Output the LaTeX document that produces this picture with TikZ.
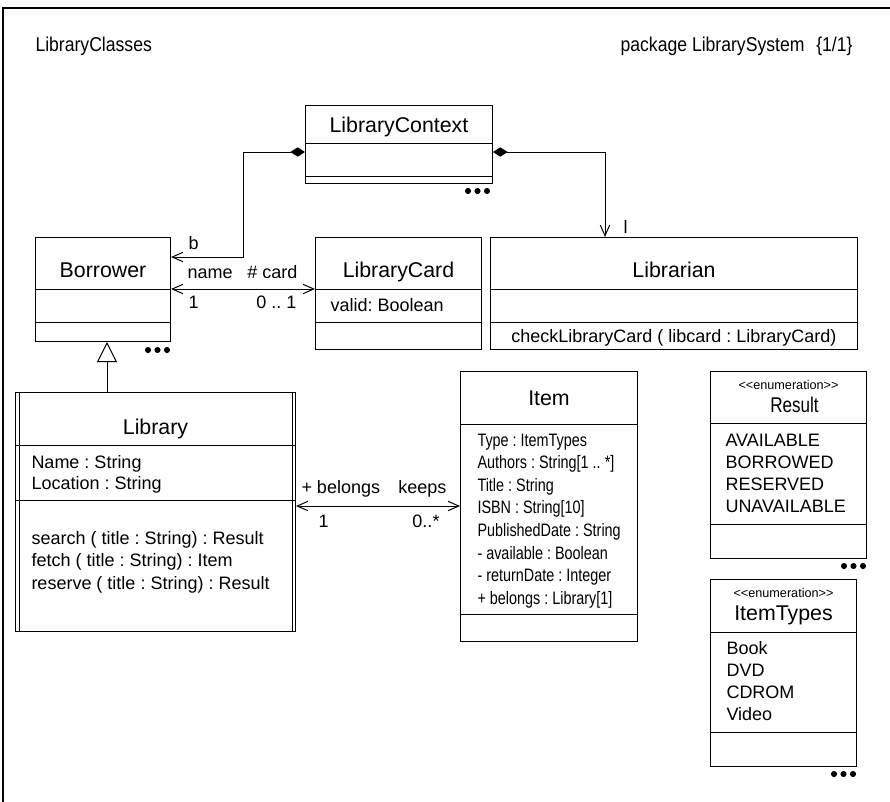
\documentclass[tikz,border=0pt]{standalone}
\usepackage{fontspec}
\setmainfont{Liberation Sans}
\usetikzlibrary{arrows.meta, positioning, calc}
\frenchspacing
\newcommand\condensed[2][0.8]{\scalebox{#1}[1]{#2}}

\begin{document}
\begin{tikzpicture}[x=0.75pt, y=-0.75pt, line width=0.75pt,
  classbox/.style={draw, inner sep=0pt, anchor=north west},
  cname/.style={font=\fontsize{16}{19}\selectfont, anchor=base, inner sep=0pt},
  stereo/.style={font=\fontsize{9.5}{11}\selectfont, anchor=base, inner sep=0pt},
  attr/.style={font=\fontsize{13.5}{16}\selectfont, anchor=base west, inner sep=0pt},
  role/.style={font=\fontsize{13.5}{16}\selectfont, inner sep=0pt},
  header/.style={font=\fontsize{15}{18}\selectfont, inner sep=0pt, anchor=base east},
  assoc/.style={{Straight Barb[length=8pt, width=7pt]}-{Straight Barb[length=8pt, width=7pt]}},
  comp/.style={{Diamond[length=11pt, width=7pt]}-{Straight Barb[length=8pt, width=7pt]}},
  gen/.style={-{Triangle[open, length=15pt, width=15pt]}}]

  \useasboundingbox (0,0) rectangle (890,801);
  \draw[line width=1pt] (3,8) rectangle (900,820);
  \node[header, anchor=base west] (diagname) at (35,51) {\condensed[0.88]{LibraryClasses}};
  \node[header] (pkgname) at (805,51) {\condensed[0.88]{package LibrarySystem}};
  \node[header] (pkgpage) at (853,51) {\condensed[0.88]{\{1/1\}}};

  % class boxes: name / corner / size / compartment lines
  \foreach \n/\x/\y/\w/\h/\sa/\sb in {ctx/305/105/187/78/38/71,
      borrower/35/237/135/104/52/85, card/315/237/166/112/52/85,
      librarian/490/237/367/112/52/85, library/15/392/280/239/53/108,
      item/460/371/177/270/53/243, result/710/371/156/187/52/153,
      types/710/579/146/187/53/153}{
    \node[classbox, minimum width=\w*0.75pt, minimum height=\h*0.75pt] (\n) at (\x,\y) {};
    \draw ($(\n.north west)+(0,\sa)$) -- ($(\n.north east)+(0,\sa)$)
          ($(\n.north west)+(0,\sb)$) -- ($(\n.north east)+(0,\sb)$);
  }
  % active class
  \draw ($(library.north west)+(4,0)$) -- ($(library.south west)+(4,0)$)
        ($(library.north east)+(-4,0)$) -- ($(library.south east)+(-4,0)$);

  \node[cname] (ctx-name) at ($(ctx.north)+(0,27)$) {LibraryContext};
  \node[cname] (borrower-name) at ($(borrower.north)+(0,40.5)$) {Borrower};
  \node[cname] (card-name) at ($(card.north)+(0,40.5)$) {LibraryCard};
  \node[cname] (librarian-name) at ($(librarian.north)+(0,40.5)$) {Librarian};
  \node[cname] (library-name) at ($(library.north)+(0,42.5)$) {Library};
  \node[cname] (item-name) at ($(item.north)+(0,34.5)$) {Item};
  \node[stereo] (result-st) at ($(result.north)+(0,18)$) {<{}<enumeration>{}>};
  \node[cname] (result-name) at ($(result.north)+(6,41.5)$) {\condensed{Result}};
  \node[stereo] (types-st) at ($(types.north)+(0,18)$) {<{}<enumeration>{}>};
  \node[cname] (types-name) at ($(types.north)+(0,41.5)$) {ItemTypes};

  % attributes and operations
  \node[attr] (card-a1) at ($(card.north west)+(15,74)$) {valid: Boolean};
  \node[attr, anchor=base] (librarian-o1) at ($(librarian.north)+(0,105)$) {checkLibraryCard ( libcard : LibraryCard)};
  \foreach \t [count=\i] in {{Name : String}, {Location : String}}
    \node[attr] (library-a\i) at ($(library.north west)+(16,{76+21*(\i-1)})$) {\t};
  \foreach \t [count=\i] in {{search ( title : String) : Result},
      {fetch ( title : String) : Item}, {reserve ( title : String) : Result}}
    \node[attr] (library-o\i) at ($(library.north west)+(16,{152+22.5*(\i-1)})$) {\t};
  \foreach \t [count=\i] in {{Type : ItemTypes}, {Authors : String[1 .. *]},
      {Title : String}, {ISBN : String[10]}, {PublishedDate : String},
      {- available : Boolean}, {- returnDate : Integer}, {+ belongs : Library[1]}}
    \node[attr] (item-a\i) at ($(item.north west)+(17,{75+22.6*(\i-1)})$) {\condensed{\t}};
  \foreach \t [count=\i] in {AVAILABLE, BORROWED, RESERVED, UNAVAILABLE}
    \node[attr] (result-v\i) at ($(result.north west)+(15,{75+22.3*(\i-1)})$) {\t};
  \foreach \t [count=\i] in {Book, DVD, CDROM, Video}
    \node[attr] (types-v\i) at ($(types.north west)+(16,{75+22.3*(\i-1)})$) {\t};

  % more compartments hidden
  \foreach \x/\y in {468/191, 148/350, 844/566, 834/774}
    \foreach \d in {0,9.5,19}
      \fill (\x+\d,\y) circle (2.3pt);

  % relations
  \draw[comp] ($(ctx.north west)+(0,47)$) -| ($(borrower.north east)+(72,20)$) -- ($(borrower.north east)+(0,20)$);
  \draw[comp] ($(ctx.north east)+(0,47)$) -| ($(librarian.north west)+(115,0)$);
  \draw[assoc] ($(borrower.north east)+(0,52)$) -- ($(card.north west)+(0,52)$);
  \draw[assoc] ($(library.north east)+(0,114)$) -- ($(item.north west)+(0,135)$);
  \draw[gen] ($(library.north west)+(92,0)$) -- ($(borrower.south west)+(72,0)$);

  \node[role, anchor=base west] (b-role) at (188,249) {b};
  \node[role, anchor=base west] (name-role) at (187,278) {name};
  \node[role, anchor=base east] (card-role) at (298,278) {\# card};
  \node[role, anchor=base west] (name-mult) at (188,308) {1};
  \node[role, anchor=base east] (card-mult) at (297,308) {0 .. 1};
  \node[role, anchor=base west] (l-role) at (623,233) {l};
  \node[role, anchor=base west] (belongs-role) at (301,493) {+ belongs};
  \node[role, anchor=base east] (keeps-role) at (447,493) {keeps};
  \node[role, anchor=base west] (lib-mult) at (318,527) {1};
  \node[role, anchor=base east] (item-mult) at (440,527) {0..*};
\end{tikzpicture}
\end{document}
